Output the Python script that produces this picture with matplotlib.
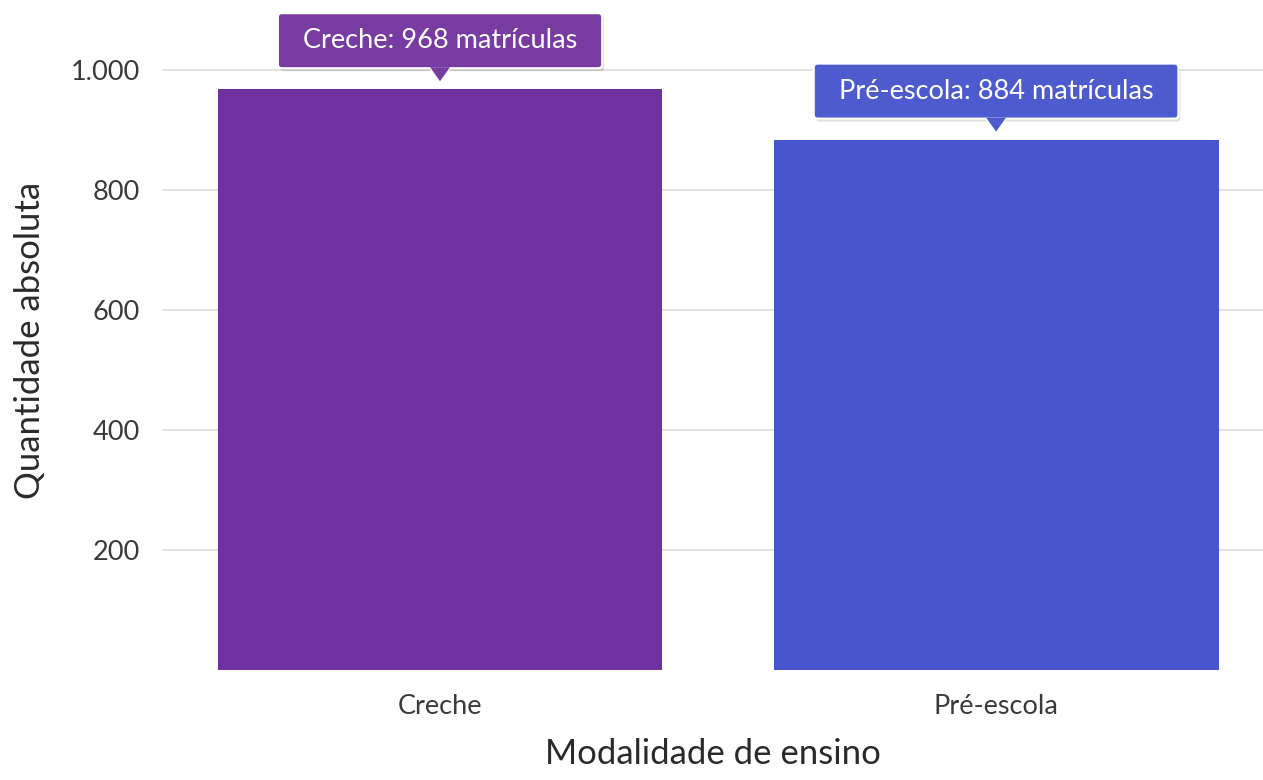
import matplotlib.pyplot as plt
from matplotlib.patches import FancyBboxPatch, Polygon
from matplotlib.transforms import ScaledTranslation, IdentityTransform

categorias = ["Creche", "Pré-escola"]
matriculas = [968, 884]
cores = ["#7030a0", "#4755cc"]
cores_tooltip = ["#773ba1", "#4e5bce"]
yticks = [200, 400, 600, 800, 1000]
ytick_labels = ["200", "400", "600", "800", "1.000"]

plt.rcParams['font.family'] = ['Lato', 'DejaVu Sans']
peso = 'normal'

fig = plt.figure(figsize=(12.63, 7.8), dpi=100)
ax = fig.add_axes([162 / 1263, 110 / 780, 1 - 162 / 1263, 1 - 110 / 780 - 10 / 780])

x = range(len(categorias))
ax.bar(x, matriculas, width=0.8, color=cores, zorder=2)

ax.set_xlim(-0.5, 1.48)
ax.set_ylim(0, 1100)
ax.set_yticks(yticks)
ax.set_yticklabels(ytick_labels)
ax.set_xticks(list(x))
ax.set_xticklabels(categorias)
ax.grid(axis='y', color='#dddddd', lw=1.2, zorder=0)
for s in ax.spines.values():
    s.set_visible(False)
ax.tick_params(length=0)
ax.tick_params(axis='y', labelsize=19.5, labelcolor='#3a3a3a', pad=16)
ax.tick_params(axis='x', labelsize=19.5, labelcolor='#3a3a3a', pad=17)
for t in ax.get_xticklabels() + ax.get_yticklabels():
    t.set_fontweight(peso)

ax.set_ylabel("Quantidade absoluta", fontsize=25, color='#2a2a2a', fontweight=peso, labelpad=18)
ax.set_xlabel("Modalidade de ensino", fontsize=25, color='#2a2a2a', fontweight=peso, labelpad=14)

fig.canvas.draw()
r = fig.canvas.get_renderer()

# tooltips
for i, (cat, v) in enumerate(zip(categorias, matriculas)):
    off = fig.dpi_scale_trans + ScaledTranslation(i, v, ax.transData)
    t = fig.text(0, 0.485, f"{cat}: {v} matrículas", transform=off, ha='center', va='center',
                 fontsize=19.5, color='white', fontweight=peso, zorder=6)
    bb = t.get_window_extent(r)
    ax0, ay0 = ax.transData.transform((i, v))
    cy = ay0 + 48.5
    w = bb.width + 50
    h = 55
    x0 = ax0 - w / 2
    y0 = cy - h / 2
    sombra = FancyBboxPatch((x0 + 2, y0 - 3), w, h, boxstyle="round,pad=0,rounding_size=4",
                            transform=IdentityTransform(), fc='#000000', ec='none', alpha=0.12, zorder=4)
    caixa = FancyBboxPatch((x0, y0), w, h, boxstyle="round,pad=0,rounding_size=4",
                           transform=IdentityTransform(), fc=cores_tooltip[i], ec='white', lw=1.5, zorder=5)
    seta = Polygon([(ax0 - 10, y0 + 1), (ax0 + 10, y0 + 1), (ax0, y0 - 13)], closed=True,
                   transform=IdentityTransform(), fc=cores_tooltip[i], ec='none', zorder=5.5)
    seta_borda = Polygon([(ax0 - 11, y0), (ax0 + 11, y0), (ax0, y0 - 14.5)], closed=True,
                         transform=IdentityTransform(), fc='white', ec='none', zorder=4.9)
    for p in (sombra, seta_borda, caixa, seta):
        p.set_clip_on(False)
        fig.add_artist(p)

fig.savefig("out.png", dpi=100)
